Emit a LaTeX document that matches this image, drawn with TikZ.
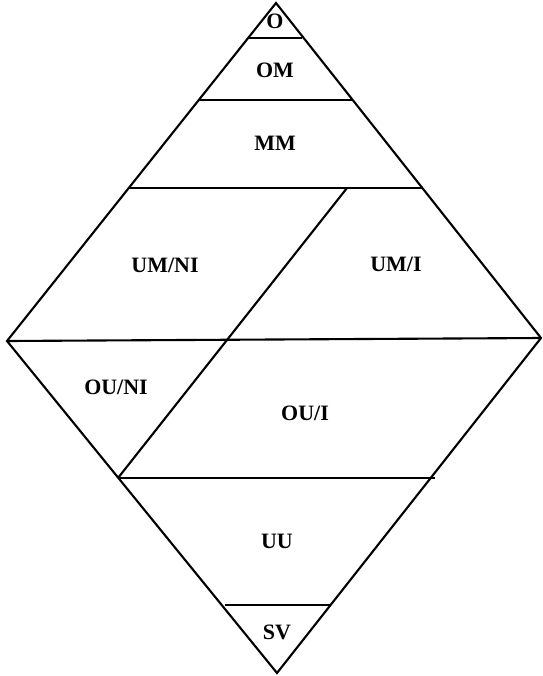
\documentclass[tikz,border=0pt]{standalone}
\usepackage{fontspec}
\setmainfont{Liberation Serif}
\begin{document}
\begin{tikzpicture}[x=0.02cm,y=-0.02cm,line width=1.2pt,
    zone/.style={font=\fontsize{12.5}{14}\selectfont\bfseries}]
    \useasboundingbox (0,0) rectangle (542,676);
    % outer diamond
    \coordinate (top) at (276,3);
    \coordinate (left) at (7,341);
    \coordinate (right) at (541,338);
    \coordinate (bot) at (277,673);
    \draw (top) -- (right) -- (bot) -- (left) -- cycle;
    % horizontal cuts
    \draw (248,38) -- (302,38);
    \draw (199,100) -- (353,100);
    \draw (128,188) -- (422,188);
    \draw (left) -- (right);
    \draw (118,478) -- (435,478);
    \draw (225,605) -- (331,605);
    % slanted cut
    \draw (347,188) -- (118,478);
    % labels
    \node[zone] (o) at (275,21) {O};
    \node[zone] (om) at (275,70) {OM};
    \node[zone] (mm) at (275,143) {MM};
    \node[zone] (umni) at (165,265) {UM/NI};
    \node[zone] (umi) at (396,264) {UM/I};
    \node[zone] (ouni) at (116,387) {OU/NI};
    \node[zone] (oui) at (305,413) {OU/I};
    \node[zone] (uu) at (277,541) {UU};
    \node[zone] (sv) at (277,632) {SV};
\end{tikzpicture}
\end{document}
